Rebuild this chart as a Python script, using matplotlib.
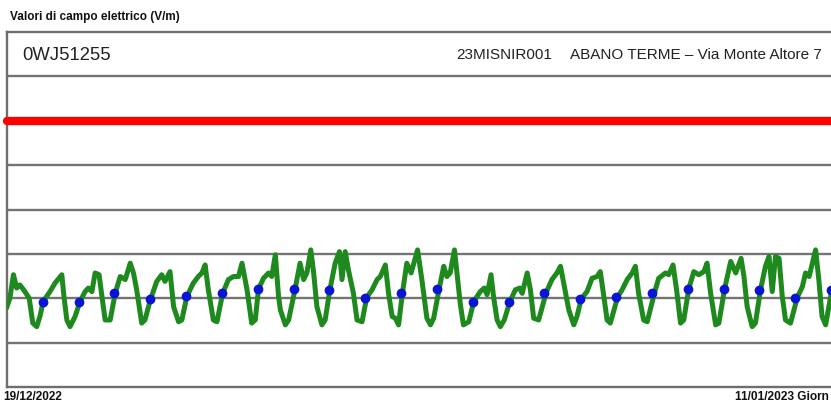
import matplotlib
matplotlib.use("Agg")
import matplotlib.pyplot as plt

plt.rcParams['font.family'] = ['Liberation Sans', 'DejaVu Sans']

# ---- data (time in days from 19/12/2022, field in V/m) ----
green_days = [
    0.00, 0.08, 0.18, 0.27, 0.36, 0.50, 0.62, 0.72, 0.83, 0.92,
    1.01, 1.20, 1.34, 1.53, 1.59, 1.67, 1.76, 1.90,
    2.04, 2.18, 2.27, 2.37, 2.46, 2.57, 2.65, 2.74, 2.88,
    3.02, 3.16, 3.30, 3.44, 3.53, 3.62, 3.76, 3.85,
    4.00, 4.18, 4.32, 4.41, 4.55, 4.65, 4.79, 4.88,
    5.02, 5.20, 5.34, 5.44, 5.53, 5.62, 5.76, 5.86,
    6.02, 6.18, 6.32, 6.46, 6.56, 6.70, 6.83, 6.93,
    7.02, 7.16, 7.30, 7.39, 7.49, 7.58, 7.63, 7.77, 7.86,
    8.04, 8.18, 8.28, 8.37, 8.48, 8.56, 8.65, 8.79, 8.88,
    9.01, 9.16, 9.28, 9.35, 9.44, 9.53, 9.67, 9.77, 9.91,
    10.04, 10.19, 10.33, 10.42, 10.56, 10.65, 10.75, 10.84, 10.93,
    11.04, 11.16, 11.28, 11.46, 11.58, 11.72, 11.82, 11.91,
    12.06, 12.19, 12.28, 12.37, 12.49, 12.56, 12.65, 12.74, 12.89,
    13.03, 13.21, 13.32, 13.40, 13.51, 13.58, 13.68, 13.77, 13.88,
    14.04, 14.19, 14.31, 14.38, 14.52, 14.61, 14.70, 14.84,
    15.05, 15.21, 15.35, 15.45, 15.54, 15.68, 15.82, 15.91,
    16.03, 16.19, 16.33, 16.47, 16.56, 16.66, 16.75, 16.84,
    17.05, 17.17, 17.31, 17.45, 17.54, 17.63, 17.77, 17.87,
    18.07, 18.19, 18.38, 18.47, 18.59, 18.69, 18.80, 18.89,
    19.03, 19.17, 19.31, 19.45, 19.54, 19.64, 19.78, 19.87,
    20.03, 20.20, 20.34, 20.49, 20.57, 20.66, 20.80, 20.89,
    21.03, 21.17, 21.27, 21.36, 21.45, 21.55, 21.64, 21.73, 21.87,
    22.06, 22.20, 22.29, 22.39, 22.57, 22.66, 22.75, 22.85, 22.99,
]
green_vals = [
    1.81, 2.00, 2.53, 2.23, 2.30, 2.15, 2.00, 1.44, 1.36, 1.59,
    1.93, 2.15, 2.34, 2.53, 2.04, 1.51, 1.36, 1.59,
    1.93, 2.15, 2.23, 2.15, 2.57, 2.53, 2.04, 1.51, 1.51,
    2.11, 2.49, 2.42, 2.79, 2.57, 2.19, 1.44, 1.51,
    1.96, 2.38, 2.53, 2.38, 2.60, 1.81, 1.47, 1.51,
    2.04, 2.34, 2.49, 2.57, 2.75, 2.19, 1.51, 1.47,
    2.11, 2.42, 2.49, 2.49, 2.79, 2.19, 1.44, 1.51,
    2.21, 2.45, 2.57, 2.49, 2.98, 2.04, 1.74, 1.40, 1.51,
    2.20, 2.79, 2.42, 2.57, 3.09, 2.57, 1.81, 1.40, 1.51,
    2.18, 2.79, 3.05, 2.42, 3.05, 2.64, 2.11, 1.51, 1.47,
    2.02, 2.19, 2.42, 2.49, 2.75, 2.11, 1.59, 1.55, 1.40,
    2.13, 2.79, 2.57, 3.09, 2.42, 1.55, 1.40, 1.55,
    2.20, 2.72, 2.49, 2.57, 3.09, 2.57, 1.89, 1.40, 1.47,
    1.93, 2.15, 2.23, 2.08, 2.53, 2.04, 1.51, 1.36, 1.51,
    1.93, 2.19, 2.23, 2.11, 2.57, 2.19, 1.55, 1.51,
    2.13, 2.42, 2.57, 2.72, 2.34, 1.74, 1.40, 1.59,
    1.99, 2.15, 2.45, 2.49, 2.60, 2.04, 1.51, 1.44,
    2.04, 2.19, 2.42, 2.57, 2.72, 2.11, 1.51, 1.47,
    2.11, 2.45, 2.57, 2.53, 2.75, 2.19, 1.44, 1.51,
    2.21, 2.60, 2.53, 2.60, 2.79, 2.11, 1.40, 1.44,
    2.21, 2.83, 2.57, 2.90, 2.49, 1.81, 1.36, 1.44,
    2.18, 2.72, 2.94, 2.15, 2.94, 2.90, 2.04, 1.51, 1.44,
    2.02, 2.26, 2.57, 2.49, 3.09, 2.42, 1.59, 1.40, 2.04,
]
mean_days = list(range(1, 24))
mean_vals = [1.92, 1.92, 2.12, 1.99, 2.05, 2.12, 2.21, 2.21, 2.19, 2.01,
             2.12, 2.21, 1.92, 1.92, 2.12, 1.99, 2.03, 2.12, 2.21, 2.21,
             2.19, 2.01, 2.19]
limit_value = 6.0
grid_values = [1, 2, 3, 4, 5, 7]

title_text = "Valori di campo elettrico (V/m)"
code_text = "0WJ51255"
station_text = "23MISNIR001"
site_text = "ABANO TERME \u2013 Via Monte Altore 7"
start_label = "19/12/2022"
end_label = "11/01/2023 Giorn"

W, H = 831, 405
fig = plt.figure(figsize=(W / 100, H / 100), dpi=100)
ax = fig.add_axes([7 / W, 18 / H, 1 - 7 / W, (387 - 32) / H])
ax.set_xlim(0, 23)
ax.set_ylim(0, 8)

grid_col = '#747474'
for g in grid_values:
    ax.axhline(g, color=grid_col, lw=1.7, zorder=1)

ax.plot([0, 23], [limit_value, limit_value], color='#ff0000', lw=6,
        solid_capstyle='round', zorder=3, clip_on=False)
ax.plot(green_days, green_vals, color='#1e8a1e', lw=3.6, zorder=4,
        solid_joinstyle='round')
ax.plot(mean_days, mean_vals, 'o', color='#0a14d2', ms=6, zorder=5)

ax.spines['right'].set_visible(False)
for s in ['left', 'top', 'bottom']:
    ax.spines[s].set_color('#6e6e6e')
    ax.spines[s].set_linewidth(1.7)
ax.set_xticks([])
ax.set_yticks([])

fig.text(10 / W, 1 - 17 / H, title_text, fontsize=8.5, fontweight='bold',
         ha='left', va='center', color='#111111')
fig.text(22 / W, 1 - 55 / H, code_text, fontsize=13.3, ha='left',
         va='center', color='#222222')
fig.text(456 / W, 1 - 55 / H, station_text, fontsize=11, ha='left',
         va='center', color='#222222')
fig.text(570 / W, 1 - 55 / H, site_text, fontsize=11.0, ha='left',
         va='center', color='#222222')
fig.text(3 / W, 1 - 397 / H, start_label, fontsize=8.5, fontweight='bold',
         ha='left', va='center', color='#111111')
fig.text(829 / W, 1 - 397 / H, end_label, fontsize=8.6, fontweight='bold',
         ha='right', va='center', color='#111111')

fig.savefig('out.png', dpi=100)
